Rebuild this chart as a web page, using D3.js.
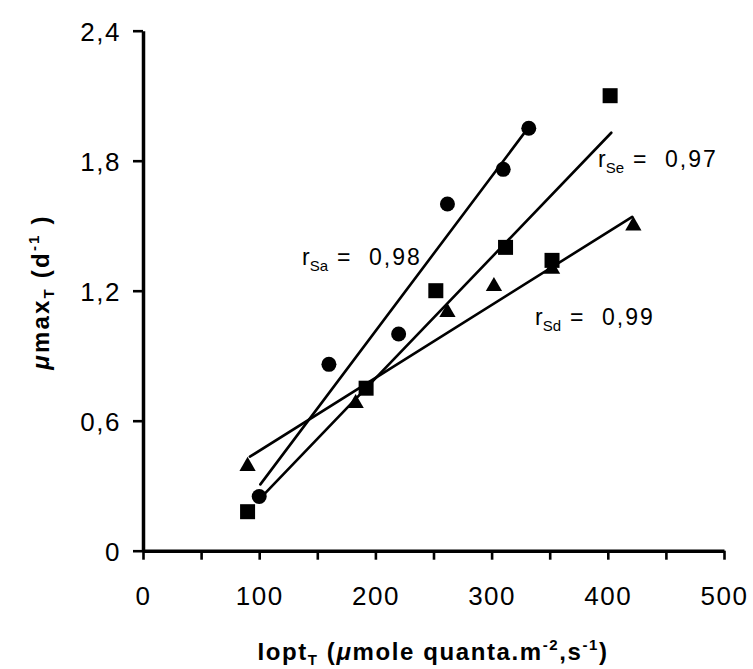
<!DOCTYPE html>
<html>
<head>
<meta charset="utf-8">
<script src="https://cdn.jsdelivr.net/npm/d3@7"></script>
<style>
  html, body { margin: 0; padding: 0; background: #fff; }
  svg { display: block; font-family: "Liberation Sans", Arial, Helvetica, sans-serif; }
</style>
</head>
<body>
<svg id="chart" width="753" height="669"></svg>
<script>
// Optimal irradiance (x) vs maximal growth rate (y) for three species
const xTicks = [0, 50, 100, 150, 200, 250, 300, 350, 400, 450, 500];
const xTickLabels = ["0", "", "100", "", "200", "", "300", "", "400", "", "500"];
const yTicks = [0, 0.6, 1.2, 1.8, 2.4];
const yTickLabels = ["0", "0,6", "1,2", "1,8", "2,4"];

// Sa : circles
const saX = [100, 160, 220, 262, 310, 332];
const saY = [0.25, 0.86, 1.00, 1.60, 1.76, 1.95];
// Se : squares
const seX = [90, 192, 252, 312, 352, 402];
const seY = [0.18, 0.75, 1.20, 1.40, 1.34, 2.10];
// Sd : triangles
const sdX = [90, 183, 262, 302, 352, 422];
const sdY = [0.39, 0.68, 1.10, 1.22, 1.30, 1.50];

// fitted regression segments: [x start, x end] and [y start, y end]
const saFitX = [101, 330], saFitY = [0.306, 1.941];
const seFitX = [105, 403], seFitY = [0.265, 1.929];
const sdFitX = [92, 421],  sdFitY = [0.434, 1.541];

const rNames = ["Sa", "Se", "Sd"];
const rValues = ["0,98", "0,97", "0,99"];

const svg = d3.select("#chart");
const x = d3.scaleLinear().domain([0, 500]).range([143, 724]);
const y = d3.scaleLinear().domain([0, 2.4]).range([550.7, 30.7]);

// axes
const xAxis = d3.axisBottom(x)
  .tickValues(xTicks)
  .tickFormat((d, i) => xTickLabels[i])
  .tickSize(9).tickSizeOuter(0).tickPadding(27);
const yAxis = d3.axisLeft(y)
  .tickValues(yTicks)
  .tickFormat((d, i) => yTickLabels[i])
  .tickSize(10).tickSizeOuter(0).tickPadding(12);

const gx = svg.append("g").attr("transform", `translate(0,${y(0)})`).call(xAxis);
const gy = svg.append("g").attr("transform", `translate(${x(0)},0)`).call(yAxis);

[gx, gy].forEach(g => {
  g.select(".domain").attr("stroke", "#000").attr("stroke-width", 3.5);
  g.selectAll(".tick line").attr("stroke", "#000").attr("stroke-width", 2.6);
  g.selectAll(".tick text")
    .attr("fill", "#000")
    .style("font-family", '"Liberation Sans", Arial, sans-serif')
    .style("font-size", "26px")
    .style("letter-spacing", "1.5px");
});
gy.selectAll(".tick text").attr("dy", "0.36em");

// regression lines
const fits = [[saFitX, saFitY], [seFitX, seFitY], [sdFitX, sdFitY]];
svg.append("g").selectAll("line").data(fits).join("line")
  .attr("x1", d => x(d[0][0])).attr("y1", d => y(d[1][0]))
  .attr("x2", d => x(d[0][1])).attr("y2", d => y(d[1][1]))
  .attr("stroke", "#000").attr("stroke-width", 2.6).attr("stroke-linecap", "round");

// markers
const sa = saX.map((v, i) => [v, saY[i]]);
const se = seX.map((v, i) => [v, seY[i]]);
const sd = sdX.map((v, i) => [v, sdY[i]]);

svg.append("g").selectAll("circle").data(sa).join("circle")
  .attr("cx", d => x(d[0])).attr("cy", d => y(d[1])).attr("r", 7.5).attr("fill", "#000");

svg.append("g").selectAll("rect").data(se).join("rect")
  .attr("x", d => x(d[0]) - 7.5).attr("y", d => y(d[1]) - 7.5)
  .attr("width", 15).attr("height", 15).attr("fill", "#000");

const tri = d3.symbol().type(d3.symbolTriangle).size(115);
svg.append("g").selectAll("path").data(sd).join("path")
  .attr("transform", d => `translate(${x(d[0])},${y(d[1])})`)
  .attr("d", tri).attr("fill", "#000");

// correlation labels
const rPos = [[302, 265], [598, 167], [535, 325]];
const rg = svg.append("g").selectAll("text").data(rNames).join("text")
  .attr("x", (d, i) => rPos[i][0]).attr("y", (d, i) => rPos[i][1])
  .attr("fill", "#000").style("font-size", "23px");
rg.each(function (d, i) {
  const t = d3.select(this);
  const x0 = rPos[i][0];
  t.append("tspan").text("r");
  t.append("tspan").attr("dy", 6).style("font-size", "15px").text(d);
  t.append("tspan").attr("x", x0 + 35).attr("dy", -6).text("=");
  t.append("tspan").attr("x", x0 + 67).style("letter-spacing", "2px").text(rValues[i]);
});

// axis titles
const xt = svg.append("text")
  .attr("x", 433).attr("y", 660).attr("text-anchor", "middle")
  .attr("fill", "#000").style("font-size", "24px").style("font-weight", "bold")
  .style("letter-spacing", "1.6px");
xt.append("tspan").text("Iopt");
xt.append("tspan").attr("dy", 5).style("font-size", "15px").text("T");
xt.append("tspan").attr("dy", -5).text(" (");
xt.append("tspan").style("font-style", "italic").text("μ");
xt.append("tspan").text("mole quanta.m");
xt.append("tspan").attr("dy", -10).style("font-size", "15px").text("-2");
xt.append("tspan").attr("dy", 10).text(",s");
xt.append("tspan").attr("dy", -10).style("font-size", "15px").text("-1");
xt.append("tspan").attr("dy", 10).text(")");

const yt = svg.append("text")
  .attr("transform", "translate(49,292) rotate(-90)")
  .attr("text-anchor", "middle")
  .attr("fill", "#000").style("font-size", "24px").style("font-weight", "bold")
  .style("letter-spacing", "2.2px");
yt.append("tspan").style("font-style", "italic").text("μ");
yt.append("tspan").text("max");
yt.append("tspan").attr("dy", 5).style("font-size", "15px").text("T");
yt.append("tspan").attr("dy", -5).text("  (d");
yt.append("tspan").attr("dy", -10).style("font-size", "15px").text("-1");
yt.append("tspan").attr("dy", 10).text(" )");
</script>
</body>
</html>
